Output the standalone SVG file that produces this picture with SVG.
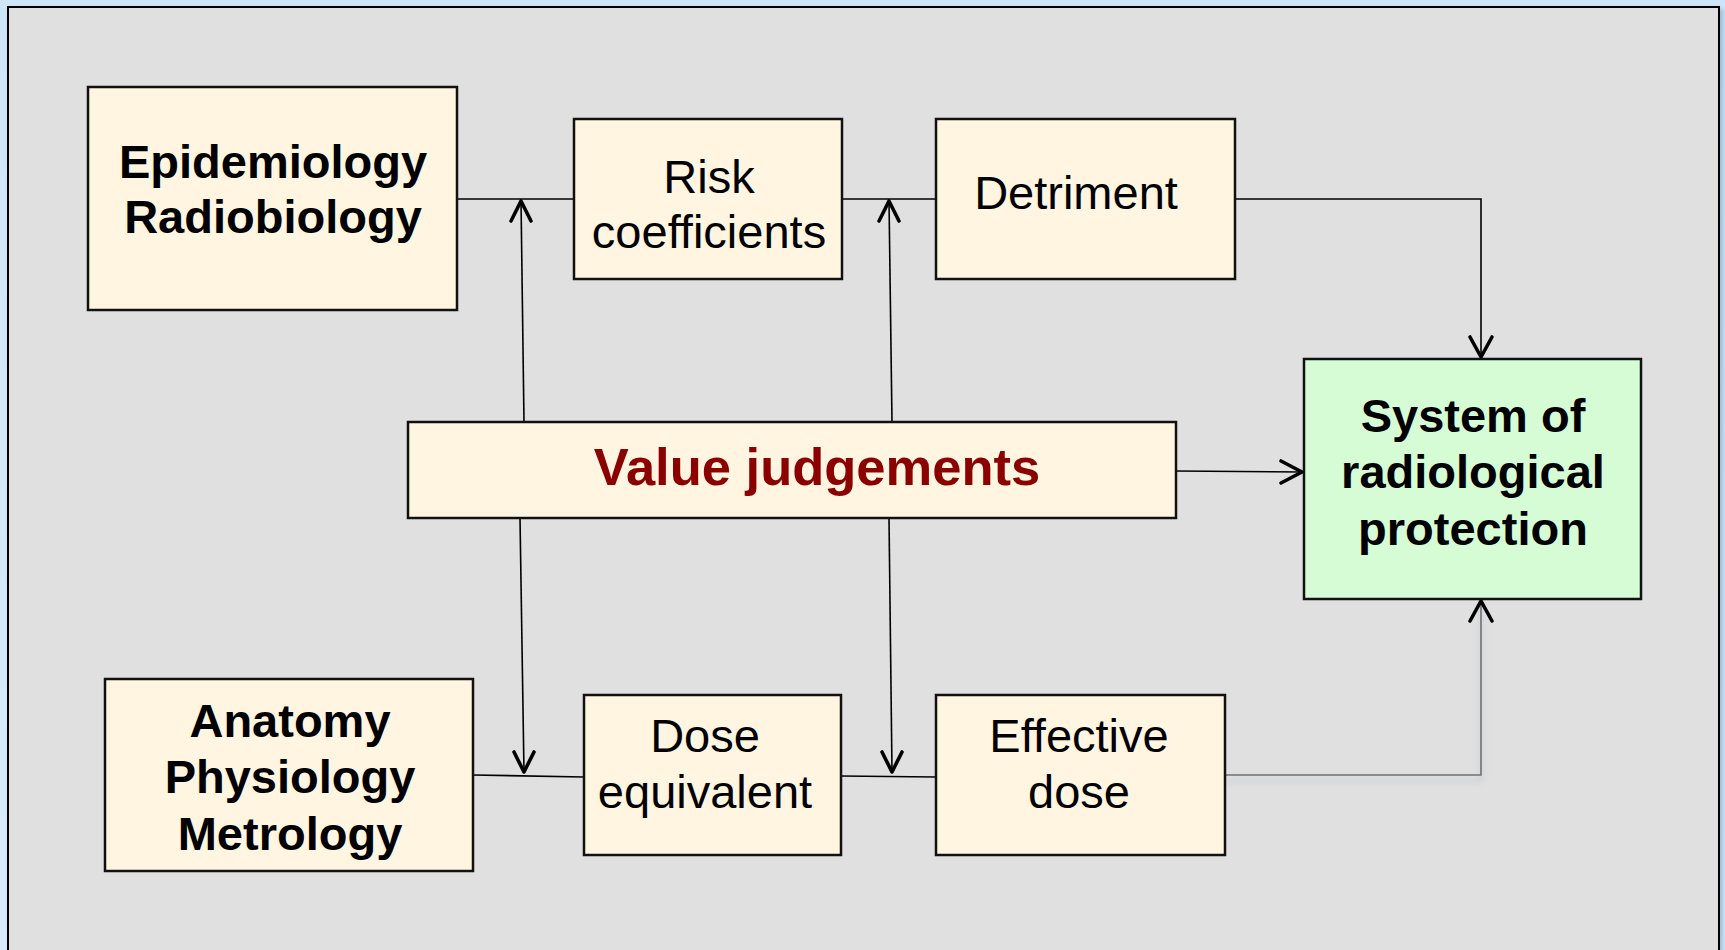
<svg xmlns="http://www.w3.org/2000/svg" width="1725" height="950" viewBox="0 0 1725 950">
<style>
.box{fill:#fff5e0;stroke:#111;stroke-width:2.5}
.sys{fill:#d5fcd5;stroke:#111;stroke-width:2.5}
.t{font-family:"Liberation Sans",Arial,sans-serif;font-size:47px;fill:#000;text-anchor:middle}
.b{font-weight:bold}
.vj{font-family:"Liberation Sans",Arial,sans-serif;font-size:52.5px;font-weight:bold;fill:#8b0000;text-anchor:middle}
.ln{stroke:#000;stroke-width:1.6;fill:none}
.ah{stroke:#000;stroke-width:3.6;fill:none;stroke-linecap:round;stroke-linejoin:round}
</style>
<defs>
<linearGradient id="bg" x1="0" y1="0" x2="0" y2="1">
<stop offset="0" stop-color="#cfe5f8"/>
<stop offset="1" stop-color="#d8ebfa"/>
</linearGradient>
<filter id="sh" x="-5%" y="-50%" width="110%" height="300%">
<feGaussianBlur in="SourceAlpha" stdDeviation="3"/>
<feOffset dx="0" dy="6" result="o"/>
<feFlood flood-color="#7890a8" flood-opacity="0.45"/>
<feComposite in2="o" operator="in"/>
<feMerge><feMergeNode/><feMergeNode in="SourceGraphic"/></feMerge>
</filter>
<filter id="fs" x="-2%" y="-2%" width="104%" height="104%">
<feGaussianBlur in="SourceAlpha" stdDeviation="2"/>
<feOffset dx="3" dy="3" result="o"/>
<feFlood flood-color="#6a8fb5" flood-opacity="0.5"/>
<feComposite in2="o" operator="in"/>
<feMerge><feMergeNode/><feMergeNode in="SourceGraphic"/></feMerge>
</filter>
</defs>
<rect x="0" y="0" width="1725" height="950" fill="url(#bg)"/>
<rect x="8" y="7" width="1711" height="950" fill="#e0e0e0" stroke="#000" stroke-width="2" filter="url(#fs)"/>

<g id="connectors">
<line class="ln" x1="457" y1="199" x2="574" y2="199"/>
<line class="ln" x1="842" y1="199" x2="936" y2="199"/>
<polyline class="ln" points="1235,199 1481,199 1481,358"/>
<polyline class="ah" points="1470,337 1481,357 1492,337"/>
<line class="ln" x1="524" y1="422" x2="521" y2="200"/>
<polyline class="ah" points="511,221 521,201 531,221"/>
<line class="ln" x1="892" y1="422" x2="889" y2="200"/>
<polyline class="ah" points="879,221 889,201 899,221"/>
<g filter="url(#sh)">
<line class="ln" x1="1176" y1="471" x2="1302" y2="472"/>
</g>
<polyline class="ah" points="1281,461 1302,472 1281,483"/>
<line class="ln" x1="473" y1="775" x2="584" y2="777"/>
<line class="ln" x1="841" y1="776" x2="936" y2="777"/>
<line class="ln" x1="520" y1="518" x2="524" y2="772"/>
<polyline class="ah" points="514,752 524,772 534,752"/>
<line class="ln" x1="889" y1="518" x2="892" y2="772"/>
<polyline class="ah" points="882,752 892,772 902,752"/>
<g filter="url(#sh)">
<polyline points="1225,775 1481,775 1481,600" fill="none" stroke="#707070" stroke-width="1.6"/>
</g>
<polyline class="ah" points="1470,621 1481,601 1492,621"/>
</g>

<g id="epidemiology">
<rect class="box" x="88" y="87" width="369" height="223"/>
<text class="t b" x="273" y="178">Epidemiology</text>
<text class="t b" x="273" y="233">Radiobiology</text>
</g>
<g id="risk">
<rect class="box" x="574" y="119" width="268" height="160"/>
<text class="t" x="709" y="193">Risk</text>
<text class="t" x="709" y="248">coefficients</text>
</g>
<g id="detriment">
<rect class="box" x="936" y="119" width="299" height="160"/>
<text class="t" x="1076" y="209">Detriment</text>
</g>
<g id="value">
<rect class="box" x="408" y="422" width="768" height="96"/>
<text class="vj" x="817" y="485">Value judgements</text>
</g>
<g id="system">
<rect class="sys" x="1304" y="359" width="337" height="240"/>
<text class="t b" x="1473" y="432">System of</text>
<text class="t b" x="1473" y="488">radiological</text>
<text class="t b" x="1473" y="545">protection</text>
</g>
<g id="anatomy">
<rect class="box" x="105" y="679" width="368" height="192"/>
<text class="t b" x="290" y="737">Anatomy</text>
<text class="t b" x="290" y="793">Physiology</text>
<text class="t b" x="290" y="850">Metrology</text>
</g>
<g id="dose">
<rect class="box" x="584" y="695" width="257" height="160"/>
<text class="t" x="705" y="752">Dose</text>
<text class="t" x="705" y="808">equivalent</text>
</g>
<g id="effective">
<rect class="box" x="936" y="695" width="289" height="160"/>
<text class="t" x="1079" y="752">Effective</text>
<text class="t" x="1079" y="808">dose</text>
</g>
</svg>
